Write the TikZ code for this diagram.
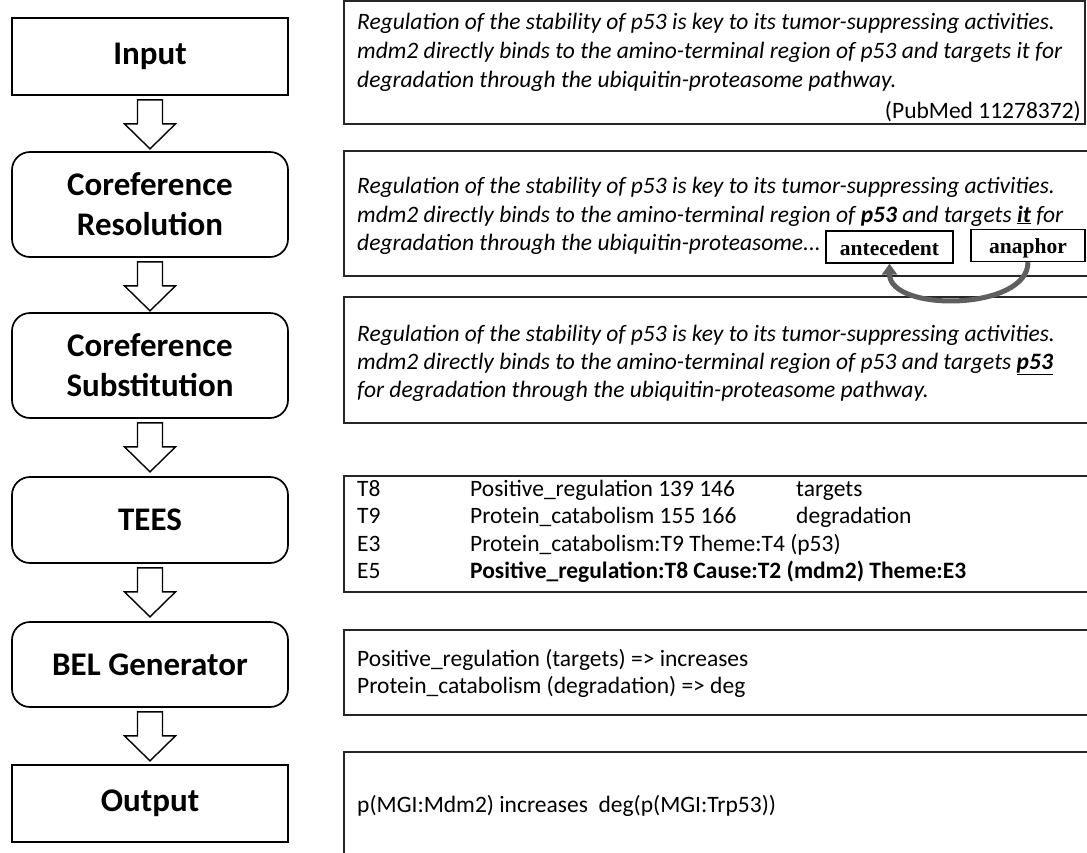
\documentclass[tikz,border=0pt]{standalone}
\usepackage{fontspec}
\setmainfont{Carlito}
\newfontfamily\timesfont{Liberation Serif}
\usetikzlibrary{arrows.meta,calc}
\definecolor{arcgray}{RGB}{95,95,95}
\begin{document}
\begin{tikzpicture}[x=1pt,y=-1pt,
  stage/.style={draw=black,line width=1.7pt,minimum width=276pt,inner sep=0pt,
    align=center,font=\fontsize{33}{40}\selectfont\bfseries},
  roundstage/.style={stage,rounded corners=18pt},
  textbox/.style={draw=black!85,line width=1.3pt,inner sep=0pt},
  txt/.style={inner sep=0pt,anchor=base west,font=\fontsize{23.5}{28}\selectfont\itshape},
  teestxt/.style={inner sep=0pt,anchor=base west,font=\fontsize{23.5}{28}\selectfont},
  tag/.style={draw=black,line width=1.3pt,fill=white,inner sep=0pt,
    text height=24pt,text depth=8pt,
    font=\timesfont\fontsize{21.5}{24}\selectfont\bfseries},
  barrow/.style={draw=black,line width=1.4pt,fill=white,line join=miter},
  curvarrow/.style={draw=arcgray,line width=5pt,-{Triangle[width=15pt,length=11pt]}}
]
\useasboundingbox (0,0) rectangle (1087,852);
\clip (0,0) rectangle (1087,852);

% left stages
\node[stage,minimum height=77pt] (in) at (150,56.5) {Input};
\node[roundstage,minimum height=105pt] (cr) at (150,204.5) {Coreference\\Resolution};
\node[roundstage,minimum height=105pt] (cs) at (150,365.5) {Coreference\\Substitution};
\node[roundstage,minimum height=86pt] (tees) at (150,520) {TEES};
\node[roundstage,minimum height=85pt] (bel) at (150,664.5) {BEL Generator};
\node[stage,minimum height=77pt] (out) at (150,803.5) {Output};

% block arrows
\foreach \s in {in,cr,cs,tees,bel}{
  \draw[barrow] ($(\s.south)+(-12.5,4)$) -- ++(25,0) -- ++(0,24) -- ++(13,0)
    -- ++(-25.5,25) -- ++(-25.5,-25) -- ++(13,0) -- cycle;
}

% right text boxes
\node[textbox,minimum width=741pt,minimum height=123pt] (b1) at (714.5,62.5) {};
\node[textbox,minimum width=751pt,minimum height=125pt] (b2) at (719.5,213.5) {};
\node[textbox,minimum width=751pt,minimum height=126pt] (b3) at (719.5,360) {};
\node[textbox,minimum width=751pt,minimum height=116pt] (b4) at (719.5,534) {};
\node[textbox,minimum width=751pt,minimum height=85pt] (b5) at (719.5,672.5) {};
\node[textbox,minimum width=751pt,minimum height=118pt] (b6) at (719.5,811) {};

% box 1
\node[txt] (b1l1) at (357,29) {Regulation of the stability of p53 is key to its tumor-suppressing activities.};
\node[txt] (b1l2) at (357,58) {mdm2 directly binds to the amino-terminal region of p53 and targets it for};
\node[txt] (b1l3) at (357,87) {degradation through the ubiquitin-proteasome pathway.};
\node[inner sep=0pt,anchor=base east,font=\fontsize{23.5}{28}\selectfont] (pm) at (1081,118) {(PubMed 11278372)};

% box 2
\node[txt] (b2l1) at (357,193) {Regulation of the stability of p53 is key to its tumor-suppressing activities.};
\node[txt] (b2l2) at (357,222) {mdm2 directly binds to the amino-terminal region of \textbf{p53} and targets \underline{\textbf{it}} for};
\node[txt] (b2l3) at (357,250) {degradation through the ubiquitin-proteasome...};

% box 3
\node[txt] (b3l1) at (357,341) {Regulation of the stability of p53 is key to its tumor-suppressing activities.};
\node[txt] (b3l2) at (357,369) {mdm2 directly binds to the amino-terminal region of p53 and targets \underline{\textbf{p53}}};
\node[txt] (b3l3) at (357,397) {for degradation through the ubiquitin-proteasome pathway.};

% tags
\node[tag,minimum width=127pt] (ante) at (889.5,247) {antecedent};
\node[tag,minimum width=114pt] (ana) at (1028,245.5) {anaphor};
\draw[curvarrow] (ana.south) to[out=-90,in=-90,looseness=0.9] (ante.south);

% TEES
\node[teestxt] (t1a) at (357,496) {T8};
\node[teestxt] (t1b) at (470,496) {Positive\_regulation 139 146};
\node[teestxt] (t1c) at (796,496) {targets};
\node[teestxt] (t2a) at (357,523) {T9};
\node[teestxt] (t2b) at (470,523) {Protein\_catabolism 155 166};
\node[teestxt] (t2c) at (796,523) {degradation};
\node[teestxt] (t3a) at (357,551) {E3};
\node[teestxt] (t3b) at (470,551) {Protein\_catabolism:T9 Theme:T4 (p53)};
\node[teestxt] (t4a) at (357,578) {E5};
\node[teestxt] (t4b) at (470,578) {\bfseries Positive\_regulation:T8 Cause:T2 (mdm2) Theme:E3};

% BEL
\node[teestxt] (bl1) at (357,666) {Positive\_regulation (targets) => increases};
\node[teestxt] (bl2) at (357,693) {Protein\_catabolism (degradation) => deg};

% Output
\node[teestxt] (ol) at (357,812) {p(MGI:Mdm2) increases\ \ deg(p(MGI:Trp53))};
\end{tikzpicture}
\end{document}
